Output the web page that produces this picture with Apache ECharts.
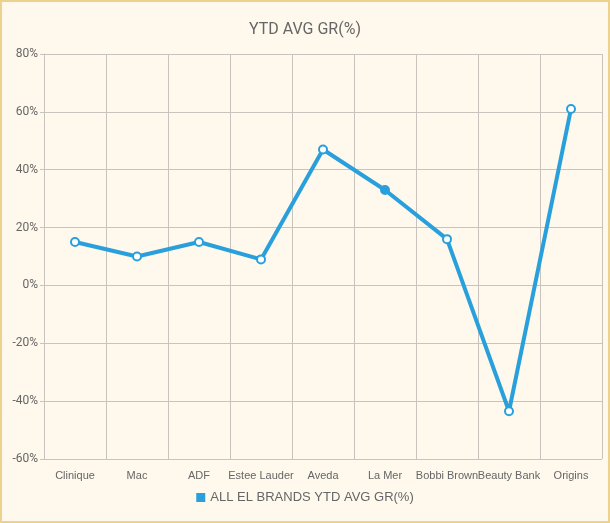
<!DOCTYPE html>
<html>
<head>
<meta charset="utf-8">
<script src="https://cdn.jsdelivr.net/npm/echarts@6/dist/echarts.min.js"></script>
<style>
    html, body { margin: 0; padding: 0; background: #fdf8ec; }
    #chart { width: 606px; height: 519px; border: 2px solid #ecd18f; background: #fef9ec; }
</style>
</head>
<body>
<div id="chart"></div>
<script>
var categories = ['Clinique', 'Mac', 'ADF', 'Estee Lauder', 'Aveda', 'La Mer', 'Bobbi Brown', 'Beauty Bank', 'Origins'];
var growth = [15, 10, 15, 9, 47, 33, 16, -43.5, 61];
var seriesName = 'ALL EL BRANDS YTD AVG GR(%)';
var highlighted = 5; // La Mer drawn with a filled marker

var lineColor = '#29a0dc';
var myChart = echarts.init(document.getElementById('chart'));
var seriesData = growth.map(function (v, i) {
    if (i === highlighted) {
        return { value: v, itemStyle: { color: lineColor, borderColor: lineColor } };
    }
    return v;
});
var option = {
    title: {
        text: 'YTD AVG GR(%)',
        left: 'center',
        top: 15,
        textStyle: { color: '#666', fontSize: 16, fontWeight: 'normal', fontFamily: 'Roboto' }
    },
    legend: {
        bottom: 12,
        left: 'center',
        icon: 'rect',
        itemWidth: 9,
        itemHeight: 9,
        data: [seriesName],
        itemStyle: { color: lineColor, borderWidth: 0 },
        textStyle: { color: '#666', fontSize: 13, fontFamily: 'Liberation Sans' }
    },
    grid: { left: 42, right: 6, top: 52, bottom: 62 },
    xAxis: {
        type: 'category',
        data: categories,
        boundaryGap: true,
        axisLine: { lineStyle: { color: '#c8c3bc' } },
        axisTick: { show: true, length: 5, lineStyle: { color: '#c8c3bc' } },
        axisLabel: { interval: 0, color: '#666', fontSize: 11, margin: 11, fontFamily: 'Liberation Sans' },
        splitLine: { show: true, lineStyle: { color: '#c8c3bc' } }
    },
    yAxis: {
        type: 'value',
        min: -60,
        max: 80,
        interval: 20,
        axisLine: { show: true, lineStyle: { color: '#c8c3bc' } },
        axisTick: { show: true, length: 4, lineStyle: { color: '#c8c3bc' } },
        axisLabel: { formatter: '{value}%', color: '#666', fontSize: 12, margin: 6, fontFamily: 'Roboto' },
        splitLine: { lineStyle: { color: '#c8c3bc' } }
    },
    series: [
        {
            name: seriesName,
            type: 'line',
            data: seriesData,
            symbol: 'circle',
            symbolSize: 8,
            lineStyle: { color: lineColor, width: 4 },
            itemStyle: { color: '#fff', borderColor: lineColor, borderWidth: 2 }
        }
    ],
    color: [lineColor]
};
myChart.setOption(option);
</script>
</body>
</html>
